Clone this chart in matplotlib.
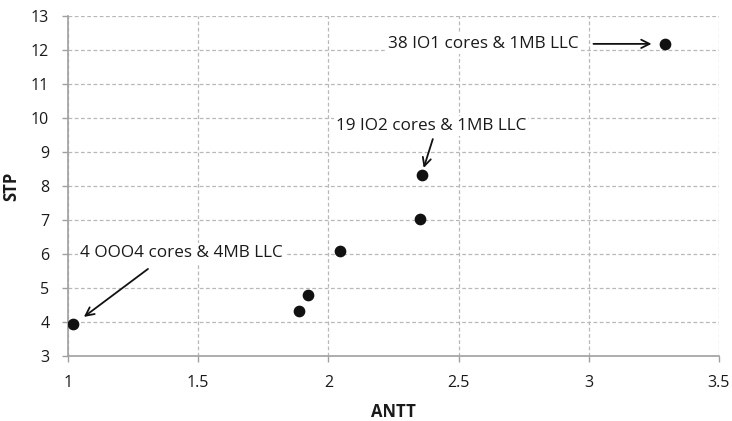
import matplotlib
matplotlib.use("Agg")
import matplotlib.pyplot as plt

# ANTT vs STP for different core/cache configurations
antt = [1.02, 1.886, 1.921, 2.044, 2.35, 2.36, 3.292]
stp = [3.93, 4.33, 4.79, 6.09, 7.02, 8.31, 12.19]

x_ticks = [1, 1.5, 2, 2.5, 3, 3.5]
x_tick_labels = ["1", "1.5", "2", "2.5", "3", "3.5"]
y_ticks = list(range(3, 14))

labels = ["38 IO1 cores & 1MB LLC", "19 IO2 cores & 1MB LLC", "4 OOO4 cores & 4MB LLC"]

plt.rcParams['font.family'] = ['Open Sans', 'DejaVu Sans']

fig = plt.figure(figsize=(7.32, 4.21), dpi=100)
ax = fig.add_axes([0.0929, 0.1544, 0.8893, 0.8076])

ax.scatter(antt, stp, s=55, color="#111111", zorder=3)

ax.set_xlim(1, 3.5)
ax.set_ylim(3, 13)
ax.set_xticks(x_ticks)
ax.set_xticklabels(x_tick_labels)
ax.set_yticks(y_ticks)

grid_color = "#b8b8b8"
ax.grid(True, color=grid_color, linestyle=(0, (3, 2)), linewidth=0.9, zorder=0)
ax.set_axisbelow(True)
for side in ("top", "right"):
    ax.spines[side].set_visible(False)
for side in ("left", "bottom"):
    ax.spines[side].set_color("#a0a0a0")
    ax.spines[side].set_linewidth(1.2)
ax.tick_params(axis="both", colors="#a0a0a0", labelcolor="#1a1a1a",
               labelsize=11.5, length=4.5, width=1, direction="out")
ax.tick_params(axis="x", pad=9.5)
ax.tick_params(axis="y", pad=9)

ax.set_xlabel("ANTT", fontsize=12, fontweight="bold", color="#1a1a1a", labelpad=8)
ax.set_ylabel("STP", fontsize=12, fontweight="bold", color="#1a1a1a", labelpad=8)

arrow = dict(arrowstyle="->", color="#111111", lw=1.3, shrinkA=0, shrinkB=0,
             mutation_scale=15)

# text anchor, arrow tail, arrow head (data coordinates)
text_pos = [(2.228, 12.18), (2.028, 9.76), (1.046, 6.03)]
tails = [(3.018, 12.18), (2.401, 9.38), (1.307, 5.56)]
heads = [(3.241, 12.18), (2.366, 8.53), (1.061, 4.15)]

for lbl, tp, tail, head in zip(labels, text_pos, tails, heads):
    ax.text(tp[0], tp[1], lbl, fontsize=12.3, color="#1a1a1a", ha="left", va="center",
            bbox=dict(facecolor="white", edgecolor="none", pad=1.5), zorder=4)
    ax.annotate("", xy=head, xytext=tail, arrowprops=arrow, zorder=4)

fig.savefig("out.png", dpi=100)
